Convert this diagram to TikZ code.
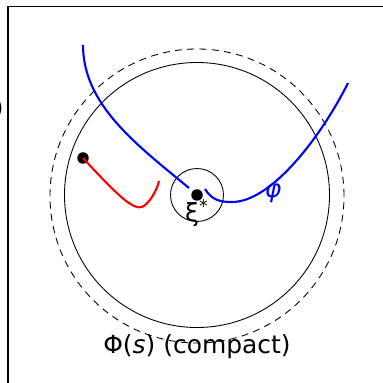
\documentclass[tikz,border=0pt]{standalone}
\usepackage{fontspec}
\setmainfont{DejaVu Sans}
\usepackage{tikz}
\usetikzlibrary{calc,positioning}

\begin{document}
\begin{tikzpicture}[font=\fontsize{14.2}{17}\selectfont,
  dot/.style={circle,fill=black,inner sep=0pt,minimum size=0.23cm},
  path/.style={line width=1.2pt}]
\useasboundingbox (-3.94,-3.76) rectangle (3.72,3.90);
\clip (-3.94,-3.76) rectangle (3.72,3.90);
% frame of the state space
\draw[line width=0.9pt] (-3.78,3.77) rectangle (4.5,-4.5);
\node[anchor=east,inner sep=0pt] (lbl) at (-3.86,1.72) {)};
% compact set and its neighbourhood
\draw[line width=0.5pt] (0,0) circle (2.65);
\draw[line width=0.5pt,dashed,dash pattern=on 4pt off 3pt] (0,-0.02) circle (2.94);
\draw[line width=0.5pt] (0,0) circle (0.53);
\node[dot] (xi) at (0,0) {};
\node[below=-2pt of xi,inner sep=1pt] (xilbl) {ξ\textsuperscript{*}};
% trajectories
\node[dot] (x0) at (-2.28,0.74) {};
\draw[path,red] (x0.center) .. controls (-1.6,0.0) and (-1.28,-0.3) .. (-1.1,-0.24)
  .. controls (-0.95,-0.17) and (-0.8,0.1) .. (-0.76,0.28);
\draw[path,blue] (-2.28,3.0) .. controls (-2.28,1.8) and (-1.2,1.0) .. (-0.16,0.14);
\draw[path,blue] (0.16,0.12) .. controls (0.3,-0.1) and (0.45,-0.14) .. (0.7,-0.14)
  .. controls (1.5,-0.14) and (2.5,1.2) .. (3.02,2.24);
\node[blue] (phi) at (1.52,0.04) {\textit{φ}};
\node (cpt) at (0,-3.04) {Φ(\textit{s}) (compact)};
\end{tikzpicture}
\end{document}
